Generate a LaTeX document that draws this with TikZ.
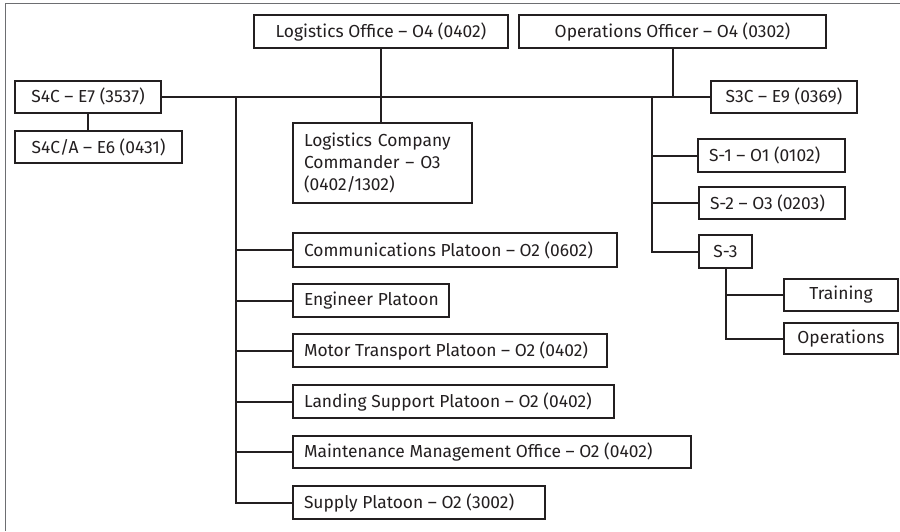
\documentclass[tikz,border=0pt]{standalone}
\usepackage{fontspec}
\setmainfont{Fira Sans}
\definecolor{ink}{HTML}{231F20}
\definecolor{frame}{HTML}{6D6E71}
\begin{document}
\begin{tikzpicture}[x=1pt,y=-1pt,
  box/.style={draw=ink, line width=2pt, rectangle, inner xsep=11pt, inner ysep=0pt,
    font=\fontsize{17.4}{22}\selectfont, text=ink},
  link/.style={draw=ink, line width=2pt}]
\useasboundingbox (0,0) rectangle (900,531);
\fill[white] (0,0) rectangle (900,531);
\draw[frame, line width=1.5pt] (5.5,531) -- (5.5,3.5) -- (900,3.5);

\newcommand{\cbox}[6]{\node[box, minimum width=#4pt, minimum height=#5pt] (#1) at (#2,#3) {#6};}
\newcommand{\lbox}[6]{\node[box, minimum width=#4pt, minimum height=#5pt] (#1) at (#2,#3) {\makebox[\dimexpr#4pt-22pt\relax][l]{#6}};}

\cbox{lo}{381}{31.5}{254}{33}{Logistics Office – O4 (0402)}
\cbox{oo}{672.5}{31.5}{307}{33}{Operations Officer – O4 (0302)}
\cbox{s4c}{88}{96.5}{146}{32}{S4C – E7 (3537)}
\cbox{s4ca}{98.5}{147}{167}{32}{S4C/A – E6 (0431)}
\node[box, minimum width=179pt, minimum height=80pt, text width=157pt, align=left] (lcc) at (382.5,163) {Logistics Company\\Commander – O3\\(0402/1302)};
\cbox{s3c}{784}{96.5}{146}{32}{S3C – E9 (0369)}
\lbox{s1}{771.5}{155.5}{147}{33}{S-1 – O1 (0102)}
\lbox{s2}{772}{203}{146}{32}{S-2 – O3 (0203)}
\cbox{s3}{725.5}{251.5}{53}{33}{S-3}
\cbox{train}{841}{295}{114}{32}{Training}
\cbox{ops}{841}{338.5}{114}{31}{Operations}

\lbox{comms}{455}{250}{324}{34}{Communications Platoon – O2 (0602)}
\lbox{eng}{371}{300.5}{156}{33}{Engineer Platoon}
\lbox{mt}{450}{350.5}{314}{33}{Motor Transport Platoon – O2 (0402)}
\lbox{ls}{453.5}{401.5}{321}{33}{Landing Support Platoon – O2 (0402)}
\lbox{mm}{492}{452}{398}{32}{Maintenance Management Office – O2 (0402)}
\lbox{sup}{419}{502.5}{252}{33}{Supply Platoon – O2 (3002)}

\coordinate (t1) at (236,96.5);
\coordinate (t2) at (652,96.5);

\draw[link] (s4c.south) -- (s4c.south |- s4ca.north);
\draw[link] (s4c.east) -- (s3c.west);
\draw[link] (lo.south) -- (lo.south |- lcc.north);
\draw[link] (oo.south) -- (oo.south |- s3c.west);

\draw[link] (t1) |- (sup.west);
\foreach \n in {comms,eng,mt,ls,mm}
  \draw[link] (t1 |- \n.west) -- (\n.west);

\draw[link] (t2) |- (s3.west);
\foreach \n in {s1,s2}
  \draw[link] (t2 |- \n.west) -- (\n.west);

\draw[link] (s3.south) |- (ops.west);
\draw[link] (s3.south |- train.west) -- (train.west);
\end{tikzpicture}
\end{document}
